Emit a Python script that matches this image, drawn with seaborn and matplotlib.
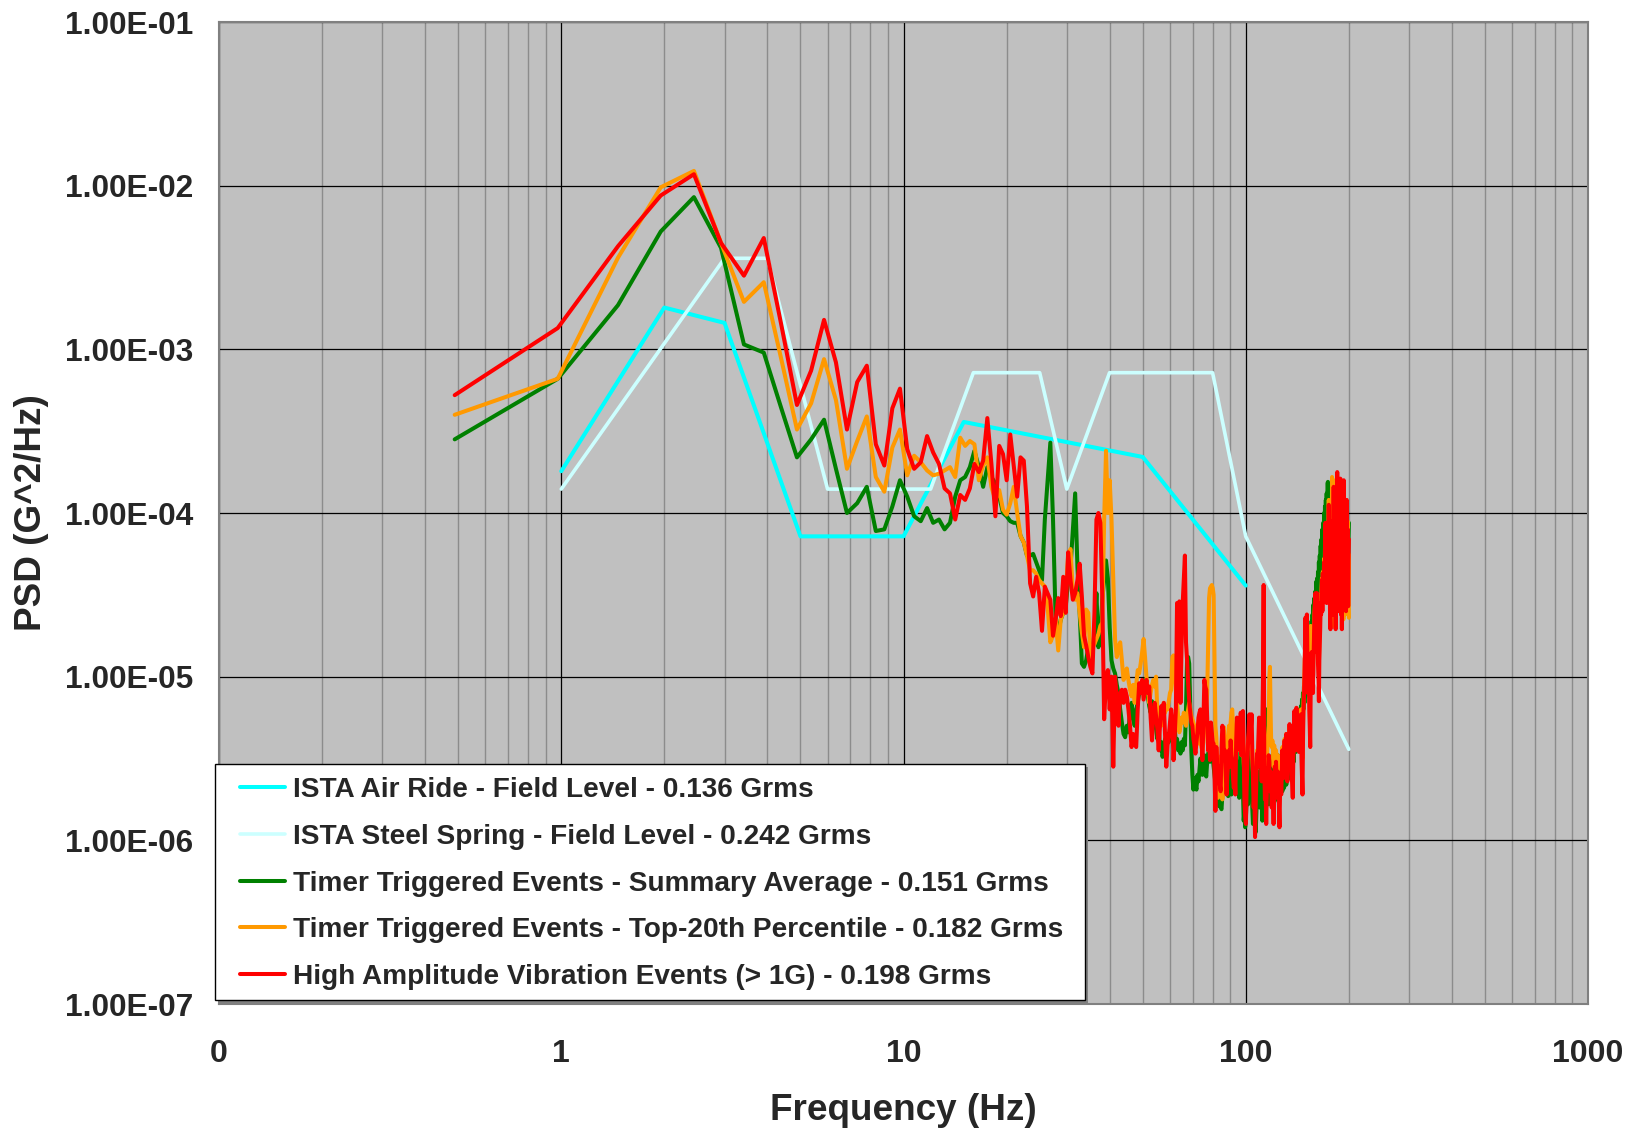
import numpy as np
import pandas as pd
import matplotlib
matplotlib.use("Agg")
import matplotlib.pyplot as plt
from matplotlib.patches import Rectangle
from matplotlib.ticker import FixedLocator, FixedFormatter, LogLocator, NullLocator, NullFormatter
import seaborn as sns

# ---------------------------------------------------------------------------
# ISTA reference profiles (break points, Hz -> G^2/Hz)
# ---------------------------------------------------------------------------
air_ride_hz = [1, 2, 3, 5, 10, 15, 50, 100]
air_ride_psd = [1.8e-4, 1.8e-3, 1.45e-3, 7.2e-5, 7.2e-5, 3.6e-4, 2.2e-4, 3.6e-5]

steel_spring_hz = [1, 3, 4, 6, 12, 16, 25, 30, 40, 80, 100, 200]
steel_spring_psd = [1.4e-4, 3.6e-3, 3.6e-3, 1.4e-4, 1.4e-4, 7.2e-4, 7.2e-4,
                    1.4e-4, 7.2e-4, 7.2e-4, 7.2e-5, 3.6e-6]

# ---------------------------------------------------------------------------
# Measured spectra: 410 FFT bins spaced 500/1024 Hz, stored as log10(G^2/Hz)
# ---------------------------------------------------------------------------
bin_hz = 500 / 1024
n_bins = 410

summary_avg_log = [
    -3.55, -3.18, -2.73, -2.28, -2.07, -2.38, -2.97, -3.02, -3.36, -3.66,
    -3.55, -3.43, -3.73, -4.00, -3.94, -3.84, -4.11, -4.10, -3.96, -3.80,
    -3.90, -4.02, -4.05, -3.97, -4.06, -4.04, -4.10, -4.06, -3.90, -3.80,
    -3.78, -3.72, -3.62, -3.72, -3.84, -3.72, -3.78, -3.82, -3.90, -4.00,
    -4.02, -4.05, -4.06, -4.06, -4.14, -4.18, -4.26, -4.26, -4.25, -4.30,
    -4.35, -4.41, -4.04, -3.80, -3.57, -4.04, -4.65, -4.73, -4.65, -4.61,
    -4.57, -4.41, -4.33, -4.10, -3.88, -4.33, -4.61, -4.92, -4.94, -4.90,
    -4.82, -4.90, -4.86, -4.73, -4.49, -4.82, -4.75, -4.53, -4.41, -4.29,
    -4.40, -4.70, -4.90, -4.95, -4.98, -5.05, -5.10, -5.20, -5.28, -5.35,
    -5.37, -5.30, -5.34, -5.22, -5.16, -5.25, -5.30, -5.20, -5.16, -5.10,
    -5.08, -5.05, -5.02, -5.06, -5.02, -5.12, -5.18, -5.22, -5.15, -5.20,
    -5.28, -5.32, -5.38, -5.30, -5.45, -5.40, -5.49, -5.44, -5.38, -5.43,
    -5.35, -5.40, -5.32, -5.36, -5.37, -5.42, -5.30, -5.43, -5.38, -5.45,
    -5.41, -5.47, -5.40, -5.45, -5.38, -5.42, -5.20, -4.90, -4.88, -4.92,
    -5.20, -5.45, -5.60, -5.69, -5.62, -5.66, -5.69, -5.60, -5.64, -5.57,
    -5.50, -5.55, -5.60, -5.55, -5.48, -5.58, -5.61, -5.52, -5.47, -5.45,
    -5.52, -5.42, -5.40, -5.49, -5.55, -5.60, -5.65, -5.72, -5.76, -5.70,
    -5.79, -5.74, -5.80, -5.81, -5.72, -5.68, -5.62, -5.70, -5.55, -5.66,
    -5.60, -5.73, -5.52, -5.68, -5.58, -5.72, -5.50, -5.64, -5.70, -5.56,
    -5.48, -5.62, -5.68, -5.52, -5.60, -5.74, -5.55, -5.40, -5.62, -5.35,
    -5.70, -5.88, -5.82, -5.92, -5.86, -5.75, -5.60, -5.78, -5.66, -5.52,
    -5.70, -5.62, -5.45, -5.80, -5.90, -5.72, -5.85, -5.78, -5.95, -5.82,
    -5.70, -5.58, -5.76, -5.66, -5.80, -5.62, -5.50, -5.74, -5.88, -5.80,
    -5.72, -5.86, -5.60, -5.40, -5.20, -5.55, -5.75, -5.62, -5.78, -5.70,
    -5.52, -5.66, -5.74, -5.60, -5.48, -5.70, -5.58, -5.64, -5.76, -5.62,
    -5.55, -5.70, -5.62, -5.48, -5.66, -5.58, -5.72, -5.60, -5.50, -5.64,
    -5.56, -5.70, -5.62, -5.52, -5.68, -5.60, -5.48, -5.58, -5.66, -5.54,
    -5.50, -5.60, -5.44, -5.56, -5.62, -5.50, -5.40, -5.54, -5.46, -5.38,
    -5.48, -5.40, -5.52, -5.36, -5.44, -5.30, -5.46, -5.38, -5.32, -5.42,
    -5.30, -5.36, -5.24, -5.34, -5.20, -5.28, -5.18, -5.30, -5.14, -5.22,
    -5.10, -5.20, -5.06, -5.16, -5.00, -5.12, -4.95, -5.05, -4.90, -5.00,
    -4.86, -4.96, -4.80, -4.92, -4.76, -4.85, -4.70, -4.82, -4.66, -4.76,
    -4.62, -4.72, -4.56, -4.68, -4.52, -4.62, -4.48, -4.58, -4.42, -4.55,
    -4.40, -4.50, -4.36, -4.46, -4.30, -4.42, -4.26, -4.38, -4.20, -4.34,
    -4.16, -4.30, -4.10, -4.26, -4.06, -4.20, -4.00, -4.16, -3.96, -4.12,
    -3.92, -4.10, -3.88, -4.06, -3.82, -3.81, -4.00, -3.86, -4.05, -3.90,
    -4.08, -3.92, -4.12, -3.88, -4.04, -4.20, -3.94, -4.10, -4.24, -3.98,
    -4.14, -4.30, -4.02, -4.18, -3.96, -4.22, -4.06, -4.32, -4.00, -4.16,
    -4.28, -4.04, -4.20, -4.36, -4.08, -4.24, -4.40, -4.10, -4.26, -4.38,
    -4.12, -4.30, -4.44, -4.14, -4.28, -4.40, -4.16, -4.32, -4.46, -4.20,
    -4.34, -4.48, -4.18, -4.30, -4.42, -4.12, -4.28, -4.40, -4.16, -4.06,
]

top20_log = [
    -3.40, -3.18, -2.44, -2.01, -1.91, -2.35, -2.71, -2.59, -3.06, -3.49,
    -3.33, -3.06, -3.31, -3.73, -3.56, -3.41, -3.78, -3.87, -3.60, -3.49,
    -3.77, -3.65, -3.69, -3.74, -3.77, -3.76, -3.74, -3.72, -3.78, -3.54,
    -3.59, -3.56, -3.58, -3.80, -3.71, -3.66, -3.84, -3.92, -3.86, -3.98,
    -4.01, -3.94, -3.84, -4.00, -4.14, -4.18, -4.26, -4.35, -4.35, -4.37,
    -4.41, -4.43, -4.45, -4.57, -4.79, -4.75, -4.65, -4.84, -4.65, -4.61,
    -4.49, -4.26, -4.22, -4.49, -4.53, -4.49, -4.61, -4.73, -4.82, -4.59,
    -4.61, -4.88, -4.82, -4.80, -4.77, -4.74, -4.69, -4.67, -4.04, -3.62,
    -4.00, -3.80, -4.04, -4.41, -4.77, -4.88, -4.82, -4.79, -4.90, -5.02,
    -5.00, -4.95, -5.02, -5.08, -5.12, -5.05, -5.16, -5.05, -4.96, -4.98,
    -4.92, -4.85, -4.77, -4.88, -5.00, -5.08, -5.16, -5.10, -5.05, -5.02,
    -5.06, -5.00, -5.22, -5.25, -5.28, -5.30, -5.20, -5.16, -5.22, -5.18,
    -5.20, -5.15, -5.10, -5.08, -4.88, -4.87, -4.98, -5.08, -5.16, -5.25,
    -5.34, -5.30, -5.25, -5.28, -5.22, -5.26, -5.30, -5.24, -5.20, -5.16,
    -5.20, -5.24, -5.26, -5.28, -5.32, -5.30, -5.34, -5.38, -5.36, -5.41,
    -5.38, -5.43, -5.45, -5.40, -5.30, -5.25, -5.20, -5.10, -4.80, -4.52,
    -4.46, -4.45, -4.44, -4.46, -4.50, -4.90, -5.30, -5.37, -5.50, -5.74,
    -5.70, -5.62, -5.55, -5.48, -5.75, -5.60, -5.31, -5.45, -5.52, -5.40,
    -5.45, -5.38, -5.30, -5.42, -5.28, -5.22, -5.20, -5.30, -5.45, -5.35,
    -5.50, -5.40, -5.32, -5.45, -5.38, -5.30, -5.42, -5.35, -5.48, -5.40,
    -5.35, -5.52, -5.60, -5.70, -5.65, -5.55, -5.48, -5.40, -5.36, -5.30,
    -5.38, -5.30, -5.36, -5.50, -5.58, -5.62, -5.55, -5.70, -5.60, -5.52,
    -5.45, -5.50, -5.40, -5.38, -5.45, -5.40, -5.48, -5.55, -5.42, -5.35,
    -5.30, -5.45, -5.52, -5.48, -5.60, -5.50, -5.42, -5.35, -5.30, -5.00,
    -4.94, -5.20, -5.40, -5.43, -5.39, -5.45, -5.55, -5.42, -5.48, -5.52,
    -5.45, -5.50, -5.58, -5.48, -5.52, -5.60, -5.66, -5.55, -5.50, -5.56,
    -5.48, -5.43, -5.45, -5.50, -5.42, -5.38, -5.44, -5.40, -5.35, -5.46,
    -5.50, -5.42, -5.36, -5.44, -5.30, -5.38, -5.42, -5.36, -5.46, -5.50,
    -5.55, -5.42, -5.30, -5.25, -5.34, -5.28, -5.36, -5.20, -5.25, -5.32,
    -5.30, -5.26, -5.35, -5.22, -5.30, -5.28, -5.20, -5.36, -5.45, -5.50,
    -5.30, -5.16, -5.08, -4.98, -4.85, -4.75, -4.88, -4.98, -4.72, -4.86,
    -5.00, -4.95, -4.88, -5.05, -5.10, -4.90, -4.69, -4.85, -4.80, -4.92,
    -4.86, -4.98, -4.82, -4.72, -4.62, -4.58, -4.52, -4.66, -4.75, -4.60,
    -4.52, -4.68, -4.80, -4.86, -4.92, -4.78, -4.70, -4.62, -4.50, -4.58,
    -4.46, -4.40, -4.55, -4.36, -4.48, -4.40, -4.28, -4.45, -4.22, -4.10,
    -4.32, -4.18, -4.48, -4.26, -4.06, -4.40, -4.20, -3.92, -4.30, -4.10,
    -4.50, -4.62, -4.20, -3.95, -4.40, -3.78, -4.30, -4.69, -4.05, -3.80,
    -4.25, -4.45, -3.95, -4.30, -4.60, -4.15, -3.85, -4.38, -3.80, -4.25,
    -4.05, -4.50, -4.45, -3.90, -4.28, -4.10, -3.85, -4.35, -4.55, -4.15,
    -4.62, -4.05, -4.30, -3.90, -4.65, -3.85, -4.20, -4.48, -4.00, -4.62,
    -4.15, -4.55, -3.98, -3.95, -4.32, -4.50, -4.05, -4.52, -4.25, -4.64,
]

high_amp_log = [
    -3.28, -2.87, -2.37, -2.06, -1.93, -2.35, -2.55, -2.32, -2.85, -3.34,
    -3.13, -2.82, -3.08, -3.49, -3.20, -3.10, -3.58, -3.71, -3.36, -3.24,
    -3.61, -3.73, -3.69, -3.53, -3.63, -3.70, -3.85, -3.88, -4.04, -3.89,
    -3.92, -3.85, -3.70, -3.75, -3.68, -3.42, -3.70, -4.02, -3.59, -3.64,
    -3.80, -3.52, -3.71, -3.90, -3.66, -3.68, -3.96, -4.43, -4.51, -4.39,
    -4.49, -4.72, -4.45, -4.49, -4.53, -4.75, -4.65, -4.52, -4.63, -4.39,
    -4.61, -4.24, -4.41, -4.53, -4.49, -4.41, -4.31, -4.51, -4.75, -4.81,
    -4.88, -4.94, -4.98, -4.61, -4.04, -4.00, -4.06, -4.51, -5.26, -5.02,
    -4.96, -5.20, -5.00, -5.55, -5.00, -5.12, -5.30, -5.10, -5.08, -5.16,
    -5.08, -5.12, -5.20, -5.30, -5.43, -5.35, -5.41, -5.43, -5.20, -5.04,
    -5.10, -5.02, -5.14, -5.08, -5.02, -5.10, -5.06, -5.25, -5.39, -5.22,
    -5.16, -5.24, -5.32, -5.45, -5.30, -5.18, -5.25, -5.16, -5.35, -5.55,
    -5.42, -5.37, -5.28, -5.20, -5.30, -5.51, -5.35, -5.20, -4.55, -4.70,
    -4.54, -5.16, -4.80, -4.55, -4.40, -4.26, -4.79, -4.90, -5.04, -5.15,
    -5.22, -5.28, -5.30, -5.38, -5.42, -5.47, -5.40, -5.34, -5.25, -5.22,
    -5.20, -5.35, -5.51, -5.30, -5.02, -5.06, -5.08, -5.25, -5.45, -5.30,
    -5.51, -5.28, -5.34, -5.40, -5.41, -5.60, -5.82, -5.43, -5.55, -5.62,
    -5.55, -5.66, -5.70, -5.43, -5.30, -5.33, -5.51, -5.45, -5.60, -5.72,
    -5.60, -5.52, -5.45, -5.55, -5.39, -5.48, -5.51, -5.62, -5.68, -5.60,
    -5.72, -5.40, -5.25, -5.35, -5.38, -5.30, -5.45, -5.22, -5.48, -5.36,
    -5.21, -5.50, -5.76, -5.85, -5.90, -5.69, -5.55, -5.40, -5.30, -5.23,
    -5.40, -5.32, -5.23, -5.45, -5.62, -5.80, -5.70, -5.98, -5.78, -5.62,
    -5.47, -5.55, -5.38, -5.25, -5.40, -5.27, -5.50, -5.64, -5.30, -5.00,
    -4.44, -5.56, -5.75, -5.65, -5.90, -5.70, -5.56, -5.62, -5.48, -5.52,
    -5.70, -5.58, -5.66, -5.80, -5.60, -5.72, -5.90, -5.64, -5.55, -5.68,
    -5.52, -5.62, -5.74, -5.58, -5.66, -5.80, -5.92, -5.70, -5.60, -5.72,
    -5.58, -5.45, -5.52, -5.62, -5.48, -5.39, -5.55, -5.46, -5.35, -5.60,
    -5.64, -5.50, -5.40, -5.55, -5.29, -5.45, -5.52, -5.42, -5.60, -5.66,
    -5.74, -5.50, -5.36, -5.21, -5.40, -5.30, -5.45, -5.19, -5.28, -5.42,
    -5.38, -5.32, -5.46, -5.28, -5.40, -5.35, -5.23, -5.50, -5.62, -5.72,
    -5.40, -5.20, -5.12, -5.00, -4.82, -4.64, -4.90, -5.05, -4.62, -4.85,
    -5.10, -5.02, -4.95, -5.20, -5.30, -5.43, -5.08, -4.96, -4.85, -5.02,
    -4.95, -5.10, -4.90, -4.78, -4.62, -4.55, -4.49, -4.70, -4.85, -4.60,
    -4.49, -4.75, -4.92, -5.00, -5.15, -4.90, -4.80, -4.70, -4.55, -4.62,
    -4.50, -4.41, -4.60, -4.37, -4.52, -4.45, -4.30, -4.50, -4.25, -4.06,
    -4.38, -4.20, -4.55, -4.31, -4.10, -4.48, -4.25, -3.95, -4.40, -4.15,
    -4.60, -4.71, -4.30, -4.05, -4.50, -4.06, -4.35, -4.62, -4.10, -3.84,
    -4.30, -4.55, -4.00, -4.40, -4.71, -4.20, -3.90, -4.45, -3.75, -4.30,
    -4.10, -4.60, -4.53, -3.95, -4.35, -4.15, -3.79, -4.40, -4.62, -4.20,
    -4.71, -4.10, -4.35, -3.95, -4.50, -3.80, -4.25, -4.55, -4.05, -4.45,
    -4.20, -4.60, -4.00, -3.92, -4.38, -4.55, -4.10, -4.57, -4.30, -4.16,
]

series_labels = [
    "ISTA Air Ride - Field Level - 0.136 Grms",
    "ISTA Steel Spring - Field Level - 0.242 Grms",
    "Timer Triggered Events - Summary Average - 0.151 Grms",
    "Timer Triggered Events - Top-20th Percentile - 0.182 Grms",
    "High Amplitude Vibration Events (> 1G) - 0.198 Grms",
]
series_colors = ["#00FFFF", "#CCFFFF", "#008000", "#FF9900", "#FF0000"]

x_ticks = [0.1, 1, 10, 100, 1000]
x_tick_labels = ["0", "1", "10", "100", "1000"]
y_ticks = [1e-7, 1e-6, 1e-5, 1e-4, 1e-3, 1e-2, 1e-1]
y_tick_labels = ["1.00E-07", "1.00E-06", "1.00E-05", "1.00E-04",
                 "1.00E-03", "1.00E-02", "1.00E-01"]

# ---------------------------------------------------------------------------
# Assemble a long table
# ---------------------------------------------------------------------------
bin_freq = bin_hz * np.arange(1, n_bins + 1)
frames = [
    pd.DataFrame({"freq": air_ride_hz, "psd": air_ride_psd,
                  "series": series_labels[0]}),
    pd.DataFrame({"freq": steel_spring_hz, "psd": steel_spring_psd,
                  "series": series_labels[1]}),
    pd.DataFrame({"freq": bin_freq, "psd": 10 ** np.array(summary_avg_log),
                  "series": series_labels[2]}),
    pd.DataFrame({"freq": bin_freq, "psd": 10 ** np.array(top20_log),
                  "series": series_labels[3]}),
    pd.DataFrame({"freq": bin_freq, "psd": 10 ** np.array(high_amp_log),
                  "series": series_labels[4]}),
]
psd_table = pd.concat(frames, ignore_index=True)

# ---------------------------------------------------------------------------
# Figure
# ---------------------------------------------------------------------------
sns.set_style("white")
plt.rcParams["font.family"] = ["Liberation Sans", "DejaVu Sans"]
plt.rcParams["font.weight"] = "bold"

W, H = 1641, 1130
fig = plt.figure(figsize=(W / 100, H / 100), dpi=100)
ax_l, ax_r, ax_t, ax_b = 219, 1588, 22, 1004
ax_w, ax_h = ax_r - ax_l, ax_b - ax_t
ax = fig.add_axes([ax_l / W, 1 - ax_b / H, ax_w / W, ax_h / H])
ax.set_facecolor("#C0C0C0")


def to_axes(px, py):
    """Pixel position in the figure -> axes fraction."""
    return (px - ax_l) / ax_w, (ax_b - py) / ax_h


for label, color in zip(series_labels, series_colors):
    sub = psd_table[psd_table["series"] == label]
    lw = 2.6 if color == "#CCFFFF" else 2.9
    sns.lineplot(data=sub, x="freq", y="psd", ax=ax, color=color, lw=lw,
                 label=label, sort=False, estimator=None, zorder=3,
                 solid_joinstyle="round", solid_capstyle="round")

ax.set_xscale("log")
ax.set_yscale("log")
ax.set_xlim(0.1, 1000)
ax.set_ylim(1e-7, 1e-1)

ax.xaxis.set_major_locator(FixedLocator(x_ticks))
ax.xaxis.set_major_formatter(FixedFormatter(x_tick_labels))
ax.xaxis.set_minor_locator(LogLocator(base=10, subs=np.arange(2, 10), numticks=20))
ax.xaxis.set_minor_formatter(NullFormatter())
ax.yaxis.set_major_locator(FixedLocator(y_ticks))
ax.yaxis.set_major_formatter(FixedFormatter(y_tick_labels))
ax.yaxis.set_minor_locator(NullLocator())

ax.grid(which="minor", axis="x", color="#8c8c8c", lw=1.0, zorder=1)
ax.grid(which="major", axis="both", color="black", lw=0.9, zorder=1)
ax.set_axisbelow(True)

ax.tick_params(axis="both", which="both", length=0)
ax.tick_params(axis="y", labelsize=22.8, pad=18.5)
ax.tick_params(axis="x", labelsize=23, pad=25.5)
for lab in ax.get_xticklabels() + ax.get_yticklabels():
    lab.set_fontweight("bold")

for sp in ax.spines.values():
    sp.set_color("#808080")
    sp.set_linewidth(1.5)

ax.set_xlabel("Frequency (Hz)", fontsize=26.6, fontweight="bold")
ax.set_ylabel("PSD (G^2/Hz)", fontsize=26.6, fontweight="bold")
ax.xaxis.label.set_va("center")
ax.yaxis.label.set_va("center")
ax.xaxis.set_label_coords(0.5, to_axes(0, 1110)[1])
ax.yaxis.set_label_coords(to_axes(31, 0)[0], 0.5)

# legend box with a drop shadow, drawn as plain patches
box_l, box_t, box_r, box_b = 215, 764, 1085, 1000
x0, y0 = to_axes(box_l, box_b)
bw, bh = box_r - box_l, box_b - box_t
ax.add_patch(Rectangle(to_axes(box_l + 3, box_b + 3), bw / ax_w, bh / ax_h,
                       transform=ax.transAxes, facecolor="#808080",
                       edgecolor="none", clip_on=False, zorder=4.4))
ax.add_patch(Rectangle((x0, y0), bw / ax_w, bh / ax_h,
                       transform=ax.transAxes, facecolor="white",
                       edgecolor="black", lw=1.0, clip_on=False, zorder=4.5))

leg = ax.legend(
    loc="upper left",
    bbox_to_anchor=to_axes(240, 777),
    borderaxespad=0, borderpad=0,
    prop={"weight": "bold", "size": 20.2},
    handlelength=1.6, handletextpad=0.28, labelspacing=0.74,
    frameon=False,
)
leg.set_zorder(5)

fig.savefig("out.png", dpi=100, facecolor="white")
